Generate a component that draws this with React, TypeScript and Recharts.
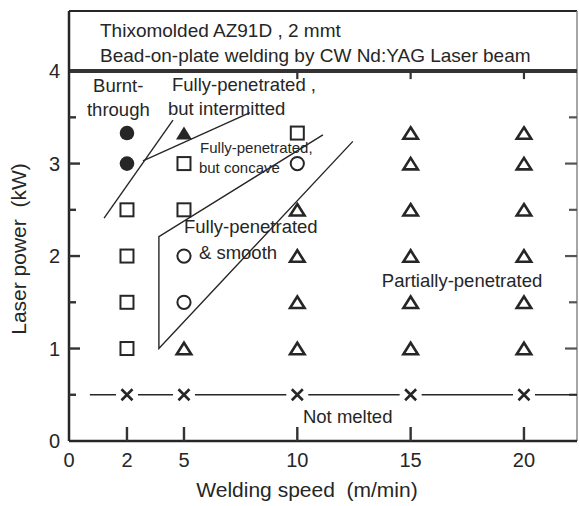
import React from 'react';
import { ScatterChart, Scatter, XAxis, YAxis, ReferenceLine } from 'recharts';

// ---------- axes ----------
const SPEED_TICKS = [0, 2, 5, 10, 15, 20];
const POWER_TICKS = [0, 1, 2, 3, 4];
const INNER_POWER_TICKS = [0.5, 1, 1.5, 2, 2.5, 3, 3.5];
const BOTTOM_MARKS = [2, 5, 10, 15, 20];
const TOP_MARKS = [10, 15, 20];
const X_MAX = 22.34;
const Y_MAX = 4.65;
const HEADER_Y = 4;

// printed speed axis is not evenly spaced below 5 m/min
const SPEED_KNOTS = [0, 2, 5, 30];
const SPEED_WARP = [0, 2.558, 5.073, 30.073];

// ---------- data ----------
const burntThrough = [{ x: 2, y: 3.33 }, { x: 2, y: 3 }];
const intermitted = [{ x: 5, y: 3.33 }];
const concave = [
  { x: 2, y: 2.5 }, { x: 2, y: 2 }, { x: 2, y: 1.5 }, { x: 2, y: 1 },
  { x: 5, y: 3 }, { x: 5, y: 2.5 }, { x: 10, y: 3.33 },
];
const smooth = [{ x: 5, y: 2 }, { x: 5, y: 1.5 }, { x: 10, y: 3 }];
const partial = [
  { x: 5, y: 1 },
  { x: 10, y: 2.5 }, { x: 10, y: 2 }, { x: 10, y: 1.5 }, { x: 10, y: 1 },
  { x: 15, y: 3.33 }, { x: 15, y: 3 }, { x: 15, y: 2.5 }, { x: 15, y: 2 }, { x: 15, y: 1.5 }, { x: 15, y: 1 },
  { x: 20, y: 3.33 }, { x: 20, y: 3 }, { x: 20, y: 2.5 }, { x: 20, y: 2 }, { x: 20, y: 1.5 }, { x: 20, y: 1 },
];
const notMelted = [{ x: 2, y: 0.5 }, { x: 5, y: 0.5 }, { x: 10, y: 0.5 }, { x: 15, y: 0.5 }, { x: 20, y: 0.5 }];
const notMeltedLine = [{ x: 0.72, y: 0.5 }, { x: X_MAX, y: 0.5 }];

const burntBoundary = [{ x: 1.21, y: 2.41 }, { x: 4.42, y: 3.47 }];
const intermittedBoundary = [{ x: 2.84, y: 3.03 }, { x: 7.91, y: 3.55 }];
const smoothBoundary = [{ x: 11.13, y: 3.31 }, { x: 3.68, y: 2.21 }, { x: 3.68, y: 1.0 }, { x: 12.45, y: 3.24 }];

const headerTexts = [
  { x: 1.07, y: 4.372, text: 'Thixomolded AZ91D , 2 mmt' },
  { x: 1.07, y: 4.102, text: 'Bead-on-plate welding by CW Nd:YAG Laser beam' },
];
const regionTexts = [
  { x: 0.83, y: 3.777, text: 'Burnt-' },
  { x: 0.62, y: 3.517, text: 'through' },
  { x: 4.37, y: 3.78, text: 'Fully-penetrated ,' },
  { x: 4.16, y: 3.52, text: 'but intermitted' },
  { x: 5.0, y: 2.25, text: 'Fully-penetrated' },
  { x: 5.66, y: 1.97, text: '& smooth' },
  { x: 13.73, y: 1.667, text: 'Partially-penetrated' },
  { x: 10.25, y: 0.195, text: 'Not melted' },
];
const smallTexts = [
  { x: 5.71, y: 3.117, text: 'Fully-penetrated,' },
  { x: 5.66, y: 2.9, text: 'but concave' },
];

// tick-mark positions along the frame (drawn inward)
const leftMarks = INNER_POWER_TICKS.map((v) => ({ x: 0, y: v }));
const rightMarks = INNER_POWER_TICKS.map((v) => ({ x: X_MAX, y: v }));
const bottomMarks = BOTTOM_MARKS.map((v) => ({ x: v, y: 0 }));
const topMarks = TOP_MARKS.map((v) => ({ x: v, y: HEADER_Y }));

// ---------- styles ----------
const INK = '#262626';
const FONT = '"Liberation Sans", Arial, Helvetica, sans-serif';

function interp(v: number, xs: number[], ys: number[]) {
  let i = 0;
  while (i < xs.length - 2 && v > xs[i + 1]) i++;
  const t = (v - xs[i]) / (xs[i + 1] - xs[i]);
  return ys[i] + t * (ys[i + 1] - ys[i]);
}

function makeSpeedScale(): any {
  let dom: number[] = [0, 1];
  let rng: number[] = [0, 1];
  const s: any = (d: number) => {
    const a = interp(dom[0], SPEED_KNOTS, SPEED_WARP);
    const b = interp(dom[dom.length - 1], SPEED_KNOTS, SPEED_WARP);
    const t = (interp(Number(d), SPEED_KNOTS, SPEED_WARP) - a) / (b - a);
    return rng[0] + t * (rng[rng.length - 1] - rng[0]);
  };
  s.domain = (d?: any) => {
    if (d === undefined) return dom.slice();
    dom = Array.from(d, Number);
    return s;
  };
  s.range = (r?: any) => {
    if (r === undefined) return rng.slice();
    rng = Array.from(r, Number);
    return s;
  };
  s.copy = () => makeSpeedScale().domain(dom).range(rng);
  s.ticks = () => SPEED_TICKS.slice();
  s.tickFormat = () => (v: any) => String(v);
  s.invert = (px: number) => {
    const a = interp(dom[0], SPEED_KNOTS, SPEED_WARP);
    const b = interp(dom[dom.length - 1], SPEED_KNOTS, SPEED_WARP);
    const w = a + ((px - rng[0]) / (rng[rng.length - 1] - rng[0])) * (b - a);
    return interp(w, SPEED_WARP, SPEED_KNOTS);
  };
  s.nice = () => s;
  s.clamp = () => s;
  s.unknown = () => s;
  return s;
}
const speedScale = makeSpeedScale();

// ---------- shapes ----------
const tri = (cx: number, cy: number, w: number, h: number) =>
  `M${cx},${cy - h / 2} L${cx + w / 2},${cy + h / 2} L${cx - w / 2},${cy + h / 2} Z`;

const FilledCircle = (p: any) => <circle cx={p.cx} cy={p.cy} r={7.3} fill={INK} />;
const FilledTriangle = (p: any) => <path d={tri(p.cx, p.cy, 16, 13)} fill={INK} />;
const OpenSquare = (p: any) => (
  <rect x={p.cx - 6.5} y={p.cy - 6.5} width={13} height={13} fill="none" stroke={INK} strokeWidth={2} />
);
const OpenCircle = (p: any) => <circle cx={p.cx} cy={p.cy} r={6.6} fill="none" stroke={INK} strokeWidth={2} />;
const OpenTriangle = (p: any) => (
  <path d={tri(p.cx, p.cy, 14.5, 11.5)} fill="none" stroke={INK} strokeWidth={2.6} strokeLinejoin="miter" />
);
const Cross = (p: any) => (
  <g>
    <rect x={p.cx - 11} y={p.cy - 5} width={22} height={10} fill="#fff" />
    <path
      d={`M${p.cx - 5.5},${p.cy - 5.5} L${p.cx + 5.5},${p.cy + 5.5} M${p.cx - 5.5},${p.cy + 5.5} L${p.cx + 5.5},${p.cy - 5.5}`}
      stroke={INK}
      strokeWidth={2.6}
    />
  </g>
);
const NoDot = () => <g />;

const isMajor = (v: number) => Number.isInteger(v);
const LeftMark = (p: any) => (
  <rect x={p.cx} y={p.cy - 1.2} width={isMajor(p.payload?.y) ? 11 : 7} height={2.4} fill="#333" />
);
const RightMark = (p: any) => {
  const w = isMajor(p.payload?.y) ? 12 : 8;
  return <rect x={p.cx - w} y={p.cy - 1.1} width={w} height={2.2} fill="#555" />;
};
const BottomMark = (p: any) => <rect x={p.cx - 1.2} y={p.cy - 14} width={2.4} height={14} fill="#333" />;
const TopMark = (p: any) => <rect x={p.cx - 1.1} y={p.cy} width={2.2} height={8} fill="#333" />;

const makeText = (size: number) => (p: any) => (
  <text x={p.cx} y={p.cy} fontSize={size} fontFamily={FONT} fill={INK} style={{ whiteSpace: 'pre' }}>
    {p.payload?.text}
  </text>
);
const HeaderText = makeText(19);
const RegionText = makeText(18.5);
const SmallText = makeText(15);

// ---------- tick labels ----------
const YTick = (p: any) => (
  <text x={p.x - 9} y={p.y} dy="0.36em" textAnchor="end" fontSize={20} fontFamily={FONT} fill={INK}>
    {p.payload.value}
  </text>
);
const XTick = (p: any) => (
  <text x={p.x} y={p.y + 26} textAnchor="middle" fontSize={20} fontFamily={FONT} fill={INK}>
    {p.payload.value}
  </text>
);

const XTitle = (p: any) => {
  const vb = p.viewBox || { x: 69, y: 441, width: 508, height: 65 };
  return (
    <text
      x={vb.x + vb.width / 2 - 16}
      y={vb.y + 56}
      textAnchor="middle"
      fontSize={21}
      fontFamily={FONT}
      fill={INK}
      style={{ whiteSpace: 'pre' }}
    >
      {'Welding speed  (m/min)'}
    </text>
  );
};
const YTitle = (p: any) => {
  const vb = p.viewBox || { x: 0, y: 11, width: 69, height: 430 };
  const cx = vb.x + 18;
  const cy = vb.y + vb.height / 2 + 23;
  return (
    <text
      x={cx}
      y={cy}
      dy="0.36em"
      transform={`rotate(-90 ${cx} ${cy})`}
      textAnchor="middle"
      fontSize={21}
      fontFamily={FONT}
      fill={INK}
      style={{ whiteSpace: 'pre' }}
    >
      {'Laser power  (kW)'}
    </text>
  );
};

const lineStyle = { stroke: INK, strokeWidth: 1.4 };

export default function App() {
  return (
    <div style={{ position: 'absolute', left: 0, top: 0, background: '#fff' }}>
      <ScatterChart width={579} height={506} margin={{ top: 11, right: 2, bottom: 0, left: 0 }}>
        <XAxis
          type="number"
          dataKey="x"
          domain={[0, X_MAX]}
          scale={speedScale}
          ticks={SPEED_TICKS}
          interval={0}
          allowDataOverflow
          height={65}
          axisLine={{ stroke: INK, strokeWidth: 2.5 }}
          tickLine={false}
          tickSize={0}
          tickMargin={0}
          tick={<XTick />}
          label={{ content: XTitle }}
        />
        <YAxis
          type="number"
          dataKey="y"
          domain={[0, Y_MAX]}
          ticks={POWER_TICKS}
          interval={0}
          allowDataOverflow
          width={69}
          axisLine={{ stroke: INK, strokeWidth: 2.5 }}
          tickLine={false}
          tickSize={0}
          tickMargin={0}
          tick={<YTick />}
          label={{ content: YTitle }}
        />

        <ReferenceLine y={Y_MAX} stroke={INK} strokeWidth={2} />
        <ReferenceLine x={X_MAX} stroke="#888" strokeWidth={1.5} />
        <ReferenceLine y={HEADER_Y} stroke="#333" strokeWidth={4} />

        <Scatter data={leftMarks} shape={LeftMark} isAnimationActive={false} />
        <Scatter data={rightMarks} shape={RightMark} isAnimationActive={false} />
        <Scatter data={bottomMarks} shape={BottomMark} isAnimationActive={false} />
        <Scatter data={topMarks} shape={TopMark} isAnimationActive={false} />

        <Scatter data={burntBoundary} line={lineStyle} shape={NoDot} fill={INK} isAnimationActive={false} />
        <Scatter data={intermittedBoundary} line={lineStyle} shape={NoDot} fill={INK} isAnimationActive={false} />
        <Scatter data={smoothBoundary} line={lineStyle} shape={NoDot} fill={INK} isAnimationActive={false} />
        <Scatter data={notMeltedLine} line={lineStyle} shape={NoDot} fill={INK} isAnimationActive={false} />

        <Scatter data={burntThrough} shape={FilledCircle} isAnimationActive={false} />
        <Scatter data={intermitted} shape={FilledTriangle} isAnimationActive={false} />
        <Scatter data={concave} shape={OpenSquare} isAnimationActive={false} />
        <Scatter data={smooth} shape={OpenCircle} isAnimationActive={false} />
        <Scatter data={partial} shape={OpenTriangle} isAnimationActive={false} />
        <Scatter data={notMelted} shape={Cross} isAnimationActive={false} />

        <Scatter data={headerTexts} shape={HeaderText} isAnimationActive={false} />
        <Scatter data={regionTexts} shape={RegionText} isAnimationActive={false} />
        <Scatter data={smallTexts} shape={SmallText} isAnimationActive={false} />
      </ScatterChart>
    </div>
  );
}
